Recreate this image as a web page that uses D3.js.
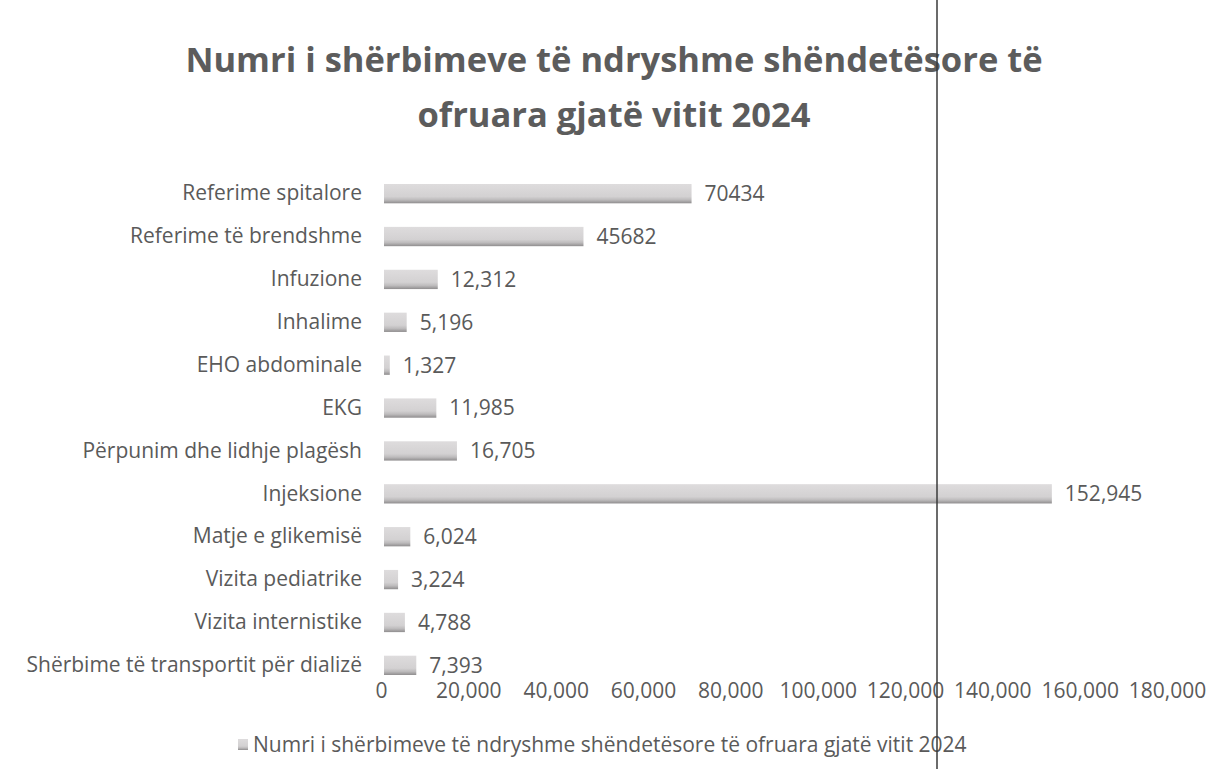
<!DOCTYPE html>
<html>
<head>
<meta charset="utf-8">
<script src="https://cdn.jsdelivr.net/npm/d3@7"></script>
<style>
  html, body { margin: 0; padding: 0; background: #fff; }
  svg { display: block; font-family: "Open Sans", "Noto Sans", sans-serif; }
</style>
</head>
<body>
<svg id="chart" width="1231" height="769"></svg>
<script>
// Services delivered during 2024, listed top to bottom
const categories = [
  "Referime spitalore",
  "Referime të brendshme",
  "Infuzione",
  "Inhalime",
  "EHO abdominale",
  "EKG",
  "Përpunim dhe lidhje plagësh",
  "Injeksione",
  "Matje e glikemisë",
  "Vizita pediatrike",
  "Vizita internistike",
  "Shërbime të transportit për dializë"
];
const values = [70434, 45682, 12312, 5196, 1327, 11985, 16705, 152945, 6024, 3224, 4788, 7393];
// whether each data label uses a thousands separator
const useSeparator = [false, false, true, true, true, true, true, true, true, true, true, true];
const xTicks = [0, 20000, 40000, 60000, 80000, 100000, 120000, 140000, 160000, 180000];
const titleLines = ["Numri i shërbimeve të ndryshme shëndetësore të", "ofruara gjatë vitit 2024"];
const seriesName = "Numri i shërbimeve të ndryshme shëndetësore të ofruara gjatë vitit 2024";

const svg = d3.select("#chart");
const textColor = "#5a5a5a";
const labelSize = 21;

// gradient for the bars: light face, darker lower edge
const defs = svg.append("defs");
const grad = defs.append("linearGradient").attr("id", "barFill")
  .attr("x1", 0).attr("y1", 0).attr("x2", 0).attr("y2", 1);
grad.append("stop").attr("offset", "0%").attr("stop-color", "#dedcdd");
grad.append("stop").attr("offset", "65%").attr("stop-color", "#d3d1d2");
grad.append("stop").attr("offset", "82%").attr("stop-color", "#bdbbbc");
grad.append("stop").attr("offset", "100%").attr("stop-color", "#8f8d8e");

const x = d3.scaleLinear().domain([0, 180000]).range([382, 1168]);
const y = d3.scaleBand().domain(categories).range([172, 687]).paddingInner(0.55).paddingOuter(0.28);

// title
svg.append("g").selectAll("text").data(titleLines).join("text")
  .attr("x", 614).attr("y", (d, i) => 72 + i * 55)
  .attr("text-anchor", "middle")
  .attr("font-size", 34.5).attr("font-weight", "bold")
  .attr("fill", "#5c5c5c")
  .text(d => d);

// bars
svg.append("g").selectAll("rect").data(values).join("rect")
  .attr("x", x(0) + 2)
  .attr("y", (d, i) => y(categories[i]))
  .attr("width", d => Math.max(3, x(d) - x(0)))
  .attr("height", y.bandwidth())
  .attr("fill", "url(#barFill)");

// category labels
const yAxis = d3.axisLeft(y).tickSize(0).tickPadding(0);
const gy = svg.append("g").attr("transform", "translate(362,0)").call(yAxis);
gy.select(".domain").remove();
gy.selectAll("text").attr("font-size", labelSize).attr("fill", textColor)
  .attr("font-family", "'Open Sans', sans-serif");

// data labels
const fmt = d3.format(",");
svg.append("g").selectAll("text").data(values).join("text")
  .attr("x", d => x(d) + 15)
  .attr("y", (d, i) => y(categories[i]) + y.bandwidth() / 2)
  .attr("dy", "0.35em")
  .attr("font-size", labelSize).attr("fill", textColor)
  .text((d, i) => useSeparator[i] ? fmt(d) : String(d));

// value axis
const xAxis = d3.axisBottom(x).tickValues(xTicks).tickFormat(fmt).tickSize(0).tickPadding(0);
const gx = svg.append("g").attr("transform", "translate(-1,698)").call(xAxis);
gx.select(".domain").remove();
gx.selectAll("text").attr("font-size", labelSize).attr("fill", textColor)
  .attr("dy", "0").attr("font-family", "'Open Sans', sans-serif");

// legend
const legend = svg.append("g").attr("transform", "translate(238,745)");
legend.append("rect").attr("x", 0).attr("y", -6).attr("width", 10).attr("height", 11)
  .attr("fill", "url(#barFill)");
legend.append("text").attr("x", 15).attr("y", 0).attr("dy", "0.35em")
  .attr("font-size", labelSize).attr("fill", textColor).text(seriesName);

// dark vertical rule crossing the page
svg.append("line").attr("x1", 937).attr("x2", 937).attr("y1", 0).attr("y2", 769)
  .attr("stroke", "#3a3a3a").attr("stroke-width", 1.5);
</script>
</body>
</html>
